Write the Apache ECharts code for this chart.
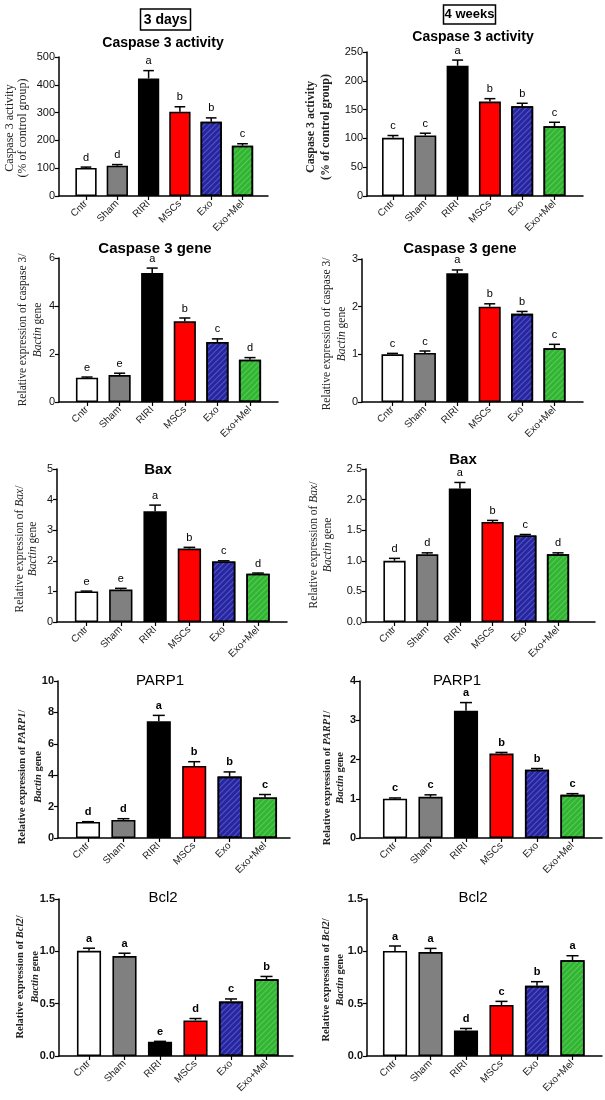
<!DOCTYPE html>
<html><head><meta charset="utf-8">
<script src="https://cdn.jsdelivr.net/npm/echarts@6/dist/echarts.min.js"></script>
<style>html,body{margin:0;padding:0;background:#fff}#c{width:605px;height:1100px}</style>
</head><body><div id="c"></div>
<script>
// ---- data ----
const categories = ['Cntr', 'Sham', 'RIRI', 'MSCs', 'Exo', 'Exo+Mel'];

const casp3Act3d = [101, 109, 423, 303, 267, 181];
const casp3Act3dErr = [3, 4, 28, 18, 14, 7];
const casp3Act3dSig = ['d', 'd', 'a', 'b', 'b', 'c'];

const casp3Act4w = [101, 105, 226, 164, 156, 121];
const casp3Act4wErr = [4, 4, 10, 5, 5, 7];
const casp3Act4wSig = ['c', 'c', 'a', 'b', 'b', 'c'];

const casp3Gene3d = [1.01, 1.12, 5.37, 3.36, 2.5, 1.76];
const casp3Gene3dErr = [0.03, 0.08, 0.21, 0.14, 0.13, 0.09];
const casp3Gene3dSig = ['e', 'e', 'a', 'b', 'c', 'd'];

const casp3Gene4w = [1.0, 1.03, 2.7, 2.0, 1.85, 1.13];
const casp3Gene4wErr = [0.02, 0.04, 0.07, 0.06, 0.05, 0.08];
const casp3Gene4wSig = ['c', 'c', 'a', 'b', 'b', 'c'];

const bax3d = [1.0, 1.06, 3.62, 2.4, 1.98, 1.58];
const bax3dErr = [0.01, 0.04, 0.2, 0.04, 0.02, 0.02];
const bax3dSig = ['e', 'e', 'a', 'b', 'c', 'd'];

const bax4w = [1.0, 1.105, 2.18, 1.635, 1.415, 1.105];
const bax4wErr = [0.04, 0.025, 0.1, 0.025, 0.015, 0.025];
const bax4wSig = ['d', 'd', 'a', 'b', 'c', 'd'];

const parp3d = [1.02, 1.15, 7.43, 4.59, 3.91, 2.58];
const parp3dErr = [0.02, 0.08, 0.38, 0.27, 0.3, 0.19];
const parp3dSig = ['d', 'd', 'a', 'b', 'b', 'c'];

const parp4w = [1.0, 1.05, 3.24, 2.15, 1.74, 1.1];
const parp4wErr = [0.02, 0.05, 0.21, 0.03, 0.03, 0.03];
const parp4wSig = ['c', 'c', 'a', 'b', 'b', 'c'];

const bcl3d = [1.005, 0.955, 0.135, 0.34, 0.52, 0.733];
const bcl3dErr = [0.025, 0.027, 0.005, 0.018, 0.025, 0.027];
const bcl3dSig = ['a', 'a', 'e', 'd', 'c', 'b'];

const bcl4w = [1.003, 0.993, 0.243, 0.488, 0.67, 0.915];
const bcl4wErr = [0.048, 0.035, 0.02, 0.034, 0.04, 0.043];
const bcl4wSig = ['a', 'a', 'd', 'c', 'b', 'a'];

// ---- styles ----
const SANS = 'Arial, "Liberation Sans", sans-serif';
const SERIF = '"Times New Roman", "Liberation Serif", serif';
const fills = ['#ffffff', '#808080', '#000000', '#ff0000', '#2626a4', '#30b630'];
const hatch = {symbol: 'rect', symbolSize: 1, dashArrayX: [1, 0], dashArrayY: [1, 3], rotation: -Math.PI / 4, color: 'rgba(255,255,255,0.22)'};
const hatched = [false, false, false, false, true, true];

const panels = [
  {title: 'Caspase 3 activity', tSize: 14, tWeight: 'bold', v: casp3Act3d, e: casp3Act3dErr, s: casp3Act3dSig, max: 500, iv: 100, dec: 0, bold: false,
   lay: {yx: 59, top: 57, bot: 196, c0: 86, c5: 242.5, right: 268, tx: 163, ty: 36},
   name: {bold: false, size: 12, cy: 128, x1: 10, x2: 23, l1: '{n|Caspase 3 activity}', l2: '{n|(% of control group)}'}},
  {title: 'Caspase 3 activity', tSize: 14, tWeight: 'bold', v: casp3Act4w, e: casp3Act4wErr, s: casp3Act4wSig, max: 250, iv: 50, dec: 0, bold: false,
   lay: {yx: 367, top: 52, bot: 196, c0: 393, c5: 554.5, right: 583, tx: 473, ty: 30},
   name: {bold: true, size: 12, cy: 127, x1: 311, x2: 326, l1: '{n|Caspase 3 activity}', l2: '{n|(% of control group)}'}},
  {title: 'Caspase 3 gene', tSize: 15, tWeight: 'bold', v: casp3Gene3d, e: casp3Gene3dErr, s: casp3Gene3dSig, max: 6, iv: 2, dec: 0, bold: false,
   lay: {yx: 59, top: 258, bot: 402, c0: 87, c5: 250, right: 278, tx: 155, ty: 241},
   name: {bold: false, size: 11.5, cy: 330, x1: 23, x2: 38, l1: '{n|Relative expression of caspase 3/}', l2: '{i|Bactin}{n| gene}'}},
  {title: 'Caspase 3 gene', tSize: 15, tWeight: 'bold', v: casp3Gene4w, e: casp3Gene4wErr, s: casp3Gene4wSig, max: 3, iv: 1, dec: 0, bold: false,
   lay: {yx: 362, top: 259, bot: 402, c0: 392.5, c5: 554.5, right: 583, tx: 460, ty: 241},
   name: {bold: false, size: 11.5, cy: 334, x1: 327, x2: 342, l1: '{n|Relative expression of caspase 3/}', l2: '{i|Bactin}{n| gene}'}},
  {title: 'Bax', tSize: 15, tWeight: 'bold', v: bax3d, e: bax3dErr, s: bax3dSig, max: 5, iv: 1, dec: 0, bold: false,
   lay: {yx: 57, top: 469, bot: 622, c0: 86.5, c5: 258, right: 287, tx: 158, ty: 462},
   name: {bold: false, size: 11.5, cy: 549, x1: 20, x2: 33, l1: '{n|Relative expression of }{i|Bax}{n|/}', l2: '{i|Bactin}{n| gene}'}},
  {title: 'Bax', tSize: 15, tWeight: 'bold', v: bax4w, e: bax4wErr, s: bax4wSig, max: 2.5, iv: 0.5, dec: 1, bold: false,
   lay: {yx: 366, top: 469, bot: 622, c0: 394.5, c5: 558, right: 595, tx: 463, ty: 452},
   name: {bold: false, size: 11.5, cy: 545, x1: 314, x2: 328, l1: '{n|Relative expression of }{i|Bax}{n|/}', l2: '{i|Bactin}{n| gene}'}},
  {title: 'PARP1', tSize: 15, tWeight: 'normal', v: parp3d, e: parp3dErr, s: parp3dSig, max: 10, iv: 2, dec: 0, bold: true,
   lay: {yx: 58, top: 681, bot: 838, c0: 88, c5: 265, right: 290, tx: 160, ty: 673},
   name: {bold: true, size: 10.5, cy: 777, x1: 22, x2: 38, l1: '{n|Relative expression of }{i|PARP1}{n|/}', l2: '{i|Bactin}{n| gene}'}},
  {title: 'PARP1', tSize: 15, tWeight: 'normal', v: parp4w, e: parp4wErr, s: parp4wSig, max: 4, iv: 1, dec: 0, bold: true,
   lay: {yx: 360, top: 681, bot: 838, c0: 395, c5: 572.5, right: 602, tx: 457, ty: 673},
   name: {bold: true, size: 10.5, cy: 778, x1: 327, x2: 340, l1: '{n|Relative expression of }{i|PARP1}{n|/}', l2: '{i|Bactin}{n| gene}'}},
  {title: 'Bcl2', tSize: 15, tWeight: 'normal', v: bcl3d, e: bcl3dErr, s: bcl3dSig, max: 1.5, iv: 0.5, dec: 1, bold: true,
   lay: {yx: 59, top: 899, bot: 1056, c0: 89, c5: 266.5, right: 293, tx: 163, ty: 890},
   name: {bold: true, size: 10.5, cy: 977, x1: 20, x2: 35, l1: '{n|Relative expression of }{i|Bcl2}{n|/}', l2: '{i|Bactin}{n| gene}'}},
  {title: 'Bcl2', tSize: 15, tWeight: 'normal', v: bcl4w, e: bcl4wErr, s: bcl4wSig, max: 1.5, iv: 0.5, dec: 1, bold: true,
   lay: {yx: 367, top: 899, bot: 1056, c0: 395, c5: 572.5, right: 602, tx: 473, ty: 890},
   name: {bold: true, size: 10.5, cy: 980, x1: 326, x2: 340, l1: '{n|Relative expression of }{i|Bcl2}{n|/}', l2: '{i|Bactin}{n| gene}'}}
];

const grid = [], xAxis = [], yAxis = [], series = [], graphic = [];
const title = [
  {text: '3 days', left: 162.5, top: 9, textAlign: 'center', borderWidth: 1.5, borderColor: '#000', padding: [4, 3, 3, 3],
   textStyle: {fontFamily: SANS, fontSize: 14, fontWeight: 'bold', color: '#000'}},
  {text: '4 weeks', left: 468.5, top: 5, textAlign: 'center', borderWidth: 1.5, borderColor: '#000', padding: [3, 1, 3, 1],
   textStyle: {fontFamily: SANS, fontSize: 13, fontWeight: 'bold', color: '#000'}}
];

panels.forEach((p, k) => {
  const L = p.lay;
  const step = (L.c5 - L.c0) / 5;
  const gl = L.c0 - step / 2;
  const gi = grid.length;
  grid.push({left: gl, top: L.top, width: step * 6, height: L.bot - L.top});
  grid.push({left: L.yx, top: L.top, width: L.right - L.yx, height: L.bot - L.top});
  xAxis.push({
    gridIndex: gi, type: 'category', data: categories,
    axisLine: {show: false},
    axisTick: {show: true, alignWithLabel: true, length: 4, lineStyle: {color: '#000', width: 1.2}},
    axisLabel: {rotate: 45, fontSize: 10, fontFamily: SANS, color: '#222', margin: 6, interval: 0}
  });
  xAxis.push({
    gridIndex: gi + 1, type: 'value', min: 0, max: 1,
    axisLine: {show: true, onZero: false, lineStyle: {color: '#000', width: 1.5}},
    axisTick: {show: false}, axisLabel: {show: false}, splitLine: {show: false}
  });
  yAxis.push({
    gridIndex: gi, type: 'value', min: 0, max: p.max, interval: p.iv, offset: gl - L.yx,
    axisLine: {show: true, lineStyle: {color: '#000', width: 1.5}},
    axisTick: {show: true, length: 4, lineStyle: {color: '#000', width: 1.2}},
    axisLabel: {fontSize: 11, fontFamily: SANS, color: '#111', fontWeight: p.bold ? 'bold' : 'normal', margin: 4,
      formatter: (val) => val.toFixed(p.dec)},
    splitLine: {show: false}
  });
  yAxis.push({gridIndex: gi + 1, type: 'value', show: false, min: 0, max: 1});

  series.push({
    type: 'bar', xAxisIndex: gi, yAxisIndex: gi, barWidth: '68%',
    data: p.v.map((val, i) => ({
      value: val,
      itemStyle: {color: fills[i], borderColor: '#000', borderWidth: 1.6, decal: hatched[i] ? hatch : null}
    })),
    z: 2
  });
  const letters = p.s;
  series.push({
    type: 'custom', xAxisIndex: gi, yAxisIndex: gi, z: 3,
    encode: {x: 0, y: [1, 2]},
    data: p.v.map((val, i) => [i, val, val + p.e[i]]),
    renderItem: function (params, api) {
      const i = api.value(0);
      const b = api.coord([i, api.value(1)]);
      const t = api.coord([i, api.value(2)]);
      const bw = api.size([1, 0])[0] * 0.68;
      const cap = bw * 0.25;
      return {
        type: 'group', children: [
          {type: 'line', shape: {x1: b[0], y1: b[1], x2: t[0], y2: t[1]}, style: {stroke: '#000', lineWidth: 1.5}},
          {type: 'line', shape: {x1: t[0] - cap, y1: t[1], x2: t[0] + cap, y2: t[1]}, style: {stroke: '#000', lineWidth: 1.5}},
          {type: 'text', x: t[0], y: t[1] - 4,
           style: {text: letters[params.dataIndex], textAlign: 'center', textVerticalAlign: 'bottom',
             font: (p.bold ? 'bold ' : '') + '11px ' + SANS, fill: '#000'}}
        ]
      };
    }
  });

  title.push({text: p.title, left: L.tx, top: L.ty, textAlign: 'center', padding: 0,
    textStyle: {fontFamily: SANS, fontSize: p.tSize, fontWeight: p.tWeight, color: '#000'}});

  const N = p.name;
  const w = N.bold ? 'bold' : 'normal';
  const rich = {
    n: {fontFamily: SERIF, fontSize: N.size, fontWeight: w, fill: '#222', color: '#222'},
    i: {fontFamily: SERIF, fontSize: N.size, fontWeight: w, fontStyle: 'italic', fill: '#222', color: '#222'}
  };
  [[N.x1, N.l1], [N.x2, N.l2]].forEach(([x, txt]) => {
    graphic.push({type: 'text', x: x, y: N.cy, rotation: Math.PI / 2,
      style: {text: txt, rich: rich, textAlign: 'center', textVerticalAlign: 'middle', fill: '#222'}});
  });
});

const chart = echarts.init(document.getElementById('c'), null, {renderer: 'canvas'});
chart.setOption({animation: false, backgroundColor: '#fff', title, grid, xAxis, yAxis, series, graphic});
</script></body></html>
